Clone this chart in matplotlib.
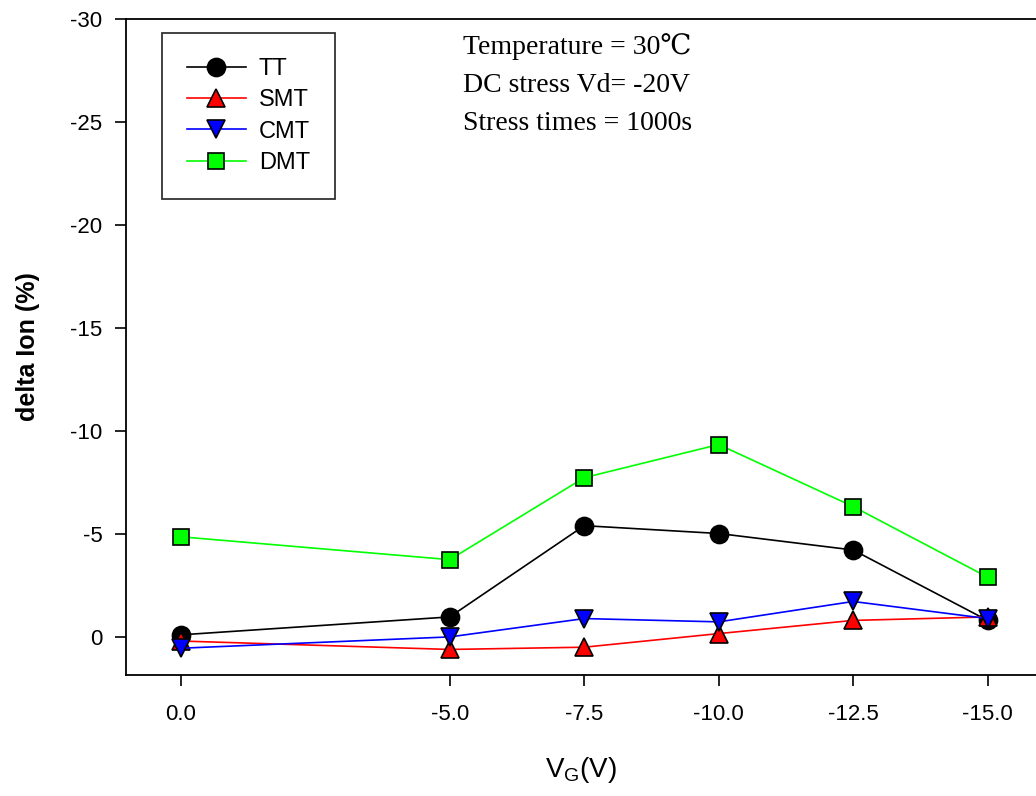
import matplotlib
matplotlib.use("Agg")
import matplotlib.pyplot as plt
from matplotlib.lines import Line2D

plt.rcParams['axes.unicode_minus'] = False
plt.rcParams['font.family'] = ['Liberation Sans', 'DejaVu Sans']

# gate voltage (V)
vg = [0.0, -5.0, -7.5, -10.0, -12.5, -15.0]
xtick_labels = ['0.0', '-5.0', '-7.5', '-10.0', '-12.5', '-15.0']
yticks = [0, -5, -10, -15, -20, -25, -30]

# delta Ion (%)
tt = [-0.1, -0.97, -5.4, -5.02, -4.22, -0.8]
smt = [0.2, 0.61, 0.5, -0.16, -0.8, -0.97]
cmt = [0.55, 0.0, -0.89, -0.73, -1.72, -0.89]
dmt = [-4.86, -3.75, -7.73, -9.34, -6.33, -2.9]

series = [
    ('TT', tt, 'black', 'o', 13),
    ('SMT', smt, 'red', '^', 13),
    ('CMT', cmt, 'blue', 'v', 13),
    ('DMT', dmt, '#00ff00', 's', 12),
]

fig = plt.figure(figsize=(10.36, 7.96), dpi=100)
ax = fig.add_axes([126 / 1036, 121 / 796, 1 - 126 / 1036, 656 / 796])

for name, vals, col, mk, ms in series:
    ax.plot(vg, vals, color=col, lw=1.2, marker=mk, markersize=ms,
            markerfacecolor=col, markeredgecolor='black', markeredgewidth=1.2,
            label=name)

ax.set_xlim(1.02, -15.9)
ax.set_ylim(1.85, -30)
ax.set_xticks(vg)
ax.set_xticklabels(xtick_labels)
ax.set_yticks(yticks)
ax.set_yticklabels([str(v) for v in yticks])
ax.tick_params(direction='out', length=8, width=1.2, labelsize=16)
ax.tick_params(axis='x', pad=13)
ax.tick_params(axis='y', pad=9)
ax.spines['right'].set_visible(False)
for s in ['left', 'top', 'bottom']:
    ax.spines[s].set_linewidth(1.3)

ax.set_ylabel('delta Ion (%)', fontsize=18, fontweight='bold')
ax.yaxis.set_label_coords(-0.094, 0.5)
ax.set_xlabel('$\\mathregular{V_G}$(V)', fontsize=20)
ax.xaxis.set_label_coords(0.5, -0.122)

handles = [Line2D([], [], color=c, lw=1.2, marker=m, markersize=ms,
                  markerfacecolor=c, markeredgecolor='black', markeredgewidth=1.2)
           for _, _, c, m, ms in series]
leg = ax.legend(handles, [s[0] for s in series], loc='upper left',
                bbox_to_anchor=(162 / 1036, 1 - 33 / 796), bbox_transform=fig.transFigure,
                fontsize=17, frameon=True, fancybox=False, edgecolor='black',
                handlelength=2.5, handletextpad=0.55, labelspacing=0.4,
                borderpad=1.05, borderaxespad=0)
leg.get_frame().set_linewidth(1.3)

notes = ['Temperature = 30\u2103', 'DC stress Vd= -20V', 'Stress times = 1000s']
for i, t in enumerate(notes):
    fig.text(463 / 1036, 1 - (47 + 38 * i) / 796, t, fontsize=20, va='center', ha='left',
             family=['Liberation Serif', 'DejaVu Serif'])

fig.savefig('out.png', dpi=100)
